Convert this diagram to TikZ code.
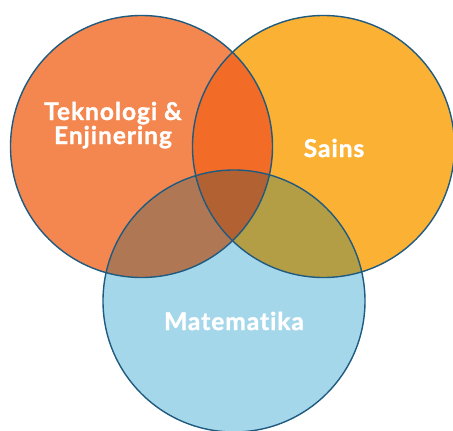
\documentclass[tikz,border=0pt]{standalone}
\usepackage{fontspec}
\setmainfont{Lato}
\newfontfamily\lblfont{Lato}[UprightFont=* Bold, Ligatures=NoCommon, FakeBold=1.3, LetterSpace=4]
\definecolor{cTech}{HTML}{F4874F}
\definecolor{cSci}{HTML}{FBB234}
\definecolor{cMath}{HTML}{A5D7EB}
\definecolor{cTS}{HTML}{F26B27}
\definecolor{cTM}{HTML}{B07755}
\definecolor{cSM}{HTML}{B49E45}
\definecolor{cAll}{HTML}{B26232}
\definecolor{cEdge}{HTML}{1F5A7F}
\begin{document}
\begin{tikzpicture}[x=1pt,y=-1pt,
  lbl/.style={text=white,font=\lblfont\fontsize{24.5}{24}\selectfont,align=center,inner sep=0pt},
  ring/.style={draw=cEdge,line width=1.4pt}]
\useasboundingbox (0,0) rectangle (453,431);
\coordinate (T) at (141.5,146.5);
\coordinate (S) at (323.5,146.5);
\coordinate (M) at (234,301);
\def\R{131}
% base fills
\fill[cTech] (T) circle (\R);
\fill[cSci] (S) circle (\R);
\fill[cMath] (M) circle (\R);
% pairwise overlaps
\begin{scope}
  \clip (T) circle (\R);
  \fill[cTS] (S) circle (\R);
  \fill[cTM] (M) circle (\R);
\end{scope}
\begin{scope}
  \clip (S) circle (\R);
  \fill[cSM] (M) circle (\R);
\end{scope}
\begin{scope}
  \clip (T) circle (\R);
  \clip (S) circle (\R);
  \fill[cAll] (M) circle (\R);
\end{scope}
% outlines
\draw[ring] (T) circle (\R);
\draw[ring] (S) circle (\R);
\draw[ring] (M) circle (\R);
% labels
\node[lbl,anchor=base] (lt) at (113,144) {Teknologi \&\\Enjinering};
\node[lbl,anchor=base] (ls) at (334,157) {Sains};
\node[lbl,anchor=base] (lm) at (234,330) {Matematika};
\end{tikzpicture}
\end{document}
